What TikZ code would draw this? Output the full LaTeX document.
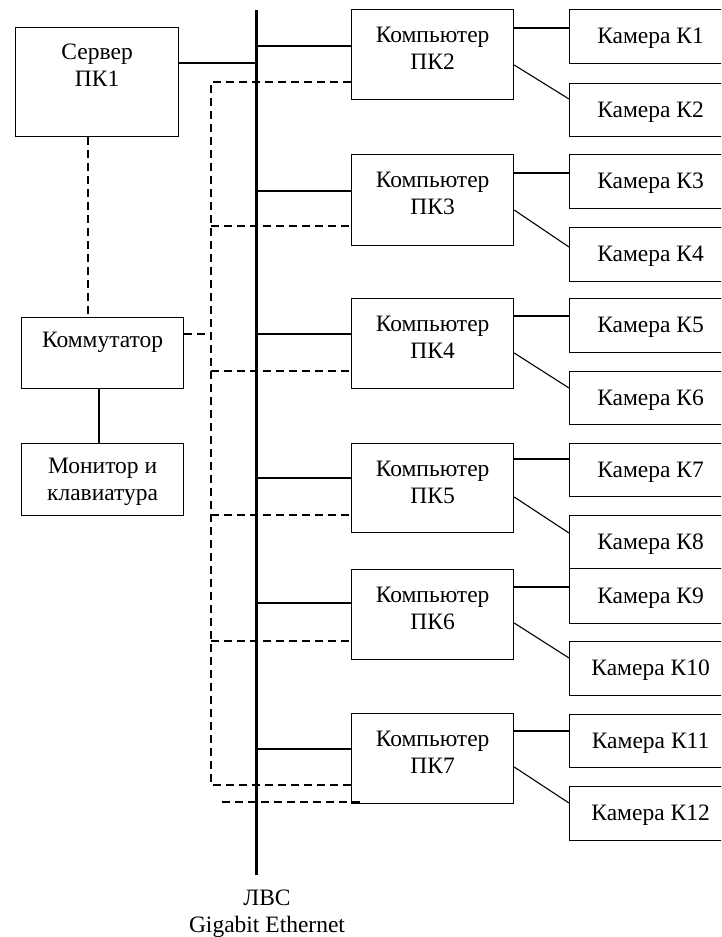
\documentclass[tikz,border=0pt]{standalone}
\usepackage{fontspec}
\setmainfont{Liberation Serif}
\newcommand{\diafont}{\fontsize{23.5}{27}\selectfont}
\begin{document}
\begin{tikzpicture}[x=1pt,y=-1pt,
  every node/.style={font=\diafont},
  box/.style={draw, line width=1.2pt, inner sep=0pt, anchor=north west, fill=white},
  pc/.style={box, minimum width=162pt, minimum height=90pt},
  cam/.style={box, minimum width=162pt, minimum height=54pt, text height=16pt, text depth=1.5pt},
  lbl/.style={anchor=north, align=center, inner sep=0pt, font=\diafont},
  busline/.style={line width=3pt},
  bold/.style={line width=2.8pt},
  conn/.style={line width=1.1pt},
  dsh/.style={line width=1.4pt, dash pattern=on 8pt off 5pt}
]
\useasboundingbox (0,0) rectangle (721,937);
\clip (0,0) rectangle (721,937);
\fill[white] (0,0) rectangle (721,937);

% bus
\coordinate (bustop) at (256,10);
\coordinate (busbot) at (256,875);
\draw[busline] (bustop) -- (busbot);

% left column
\node[box, minimum width=163pt, minimum height=109pt,
      label={[lbl, yshift=-16.5pt]north:Сервер\\ПК1}] (srv) at (15,27) {};
\node[box, minimum width=162pt, minimum height=71pt,
      label={[lbl, yshift=-15pt]north:Коммутатор}] (sw) at (21,317) {};
\node[box, minimum width=162pt, minimum height=72pt,
      label={[lbl, yshift=-14.5pt]north:Монитор и\\клавиатура}] (mon) at (21,443) {};

% computers
\node[pc, label={[lbl, yshift=-17.5pt]north:Компьютер\\ПК2}] (pk2) at (351,9) {};
\node[pc, minimum height=91pt, label={[lbl, yshift=-17.5pt]north:Компьютер\\ПК3}] (pk3) at (351,154) {};
\node[pc, label={[lbl, yshift=-17.5pt]north:Компьютер\\ПК4}] (pk4) at (351,298) {};
\node[pc, minimum height=89pt, label={[lbl, yshift=-17.5pt]north:Компьютер\\ПК5}] (pk5) at (351,443) {};
\node[pc, label={[lbl, yshift=-17.5pt]north:Компьютер\\ПК6}] (pk6) at (351,569) {};
\node[pc, label={[lbl, yshift=-17.5pt]north:Компьютер\\ПК7}] (pk7) at (351,713) {};

% cameras
\node[cam] (k1) at (569,9) {Камера К1};
\node[cam, minimum height=53pt] (k2) at (569,83) {Камера К2};
\node[cam] (k3) at (569,154) {Камера К3};
\node[cam] (k4) at (569,227) {Камера К4};
\node[cam] (k5) at (569,298) {Камера К5};
\node[cam, minimum height=53pt] (k6) at (569,371) {Камера К6};
\node[cam, minimum height=53pt] (k7) at (569,443) {Камера К7};
\node[cam, minimum height=53pt] (k8) at (569,515) {Камера К8};
\node[cam, minimum height=55pt] (k9) at (569,568) {Камера К9};
\node[cam] (k10) at (569,641) {Камера К10};
\node[cam, minimum height=53pt] (k11) at (569,714) {Камера К11};
\node[cam] (k12) at (569,786) {Камера К12};

% LAN label
\node[lbl] (lan) at (267,889.5) {ЛВС\\Gigabit Ethernet};

% thick taps to bus
\draw[bold] (srv.east |- 0,63) -- (bustop |- 0,63);
\draw[bold] (bustop |- 0,46) -- (pk2.west |- 0,46);
\draw[bold] (bustop |- 0,191) -- (pk3.west |- 0,191);
\draw[bold] (bustop |- 0,334) -- (pk4.west |- 0,334);
\draw[bold] (bustop |- 0,478) -- (pk5.west |- 0,478);
\draw[bold] (bustop |- 0,603) -- (pk6.west |- 0,603);
\draw[bold] (bustop |- 0,749) -- (pk7.west |- 0,749);

% left column links
\draw[dsh] (srv.south -| 88,0) -- (sw.north -| 88,0);
\draw[conn] (sw.south -| 99,0) -- (mon.north -| 99,0);

% dashed control network
\coordinate (dtop) at (211,82);
\coordinate (dbot) at (211,785);
\draw[dsh] (pk2.west |- dtop) -- (dtop) -- (dbot) -- (pk7.west |- dbot);
\draw[dsh] (dtop |- 0,226) -- (pk3.west |- 0,226);
\draw[dsh] (dtop |- 0,371) -- (pk4.west |- 0,371);
\draw[dsh] (dtop |- 0,515) -- (pk5.west |- 0,515);
\draw[dsh] (dtop |- 0,641) -- (pk6.west |- 0,641);
\draw[dsh] (sw.east |- 0,334) -- (dtop |- 0,334);
\coordinate (dx1) at (222,802);
\coordinate (dx2) at (362,802);
\draw[dsh] (dx1) -- (dx2);

% computer to camera links
\draw[conn] (pk2.east |- 0,28) -- (k1.west |- 0,28);
\draw[conn] (pk2.east |- 0,65) -- (k2.west |- 0,99);
\draw[conn] (pk3.east |- 0,173) -- (k3.west |- 0,173);
\draw[conn] (pk3.east |- 0,210) -- (k4.west |- 0,247);
\draw[conn] (pk4.east |- 0,316) -- (k5.west |- 0,316);
\draw[conn] (pk4.east |- 0,353) -- (k6.west |- 0,388);
\draw[conn] (pk5.east |- 0,459) -- (k7.west |- 0,459);
\draw[conn] (pk5.east |- 0,497) -- (k8.west |- 0,533);
\draw[conn] (pk6.east |- 0,587) -- (k9.west |- 0,587);
\draw[conn] (pk6.east |- 0,623) -- (k10.west |- 0,658);
\draw[conn] (pk7.east |- 0,731) -- (k11.west |- 0,731);
\draw[conn] (pk7.east |- 0,767) -- (k12.west |- 0,803);
\end{tikzpicture}
\end{document}
